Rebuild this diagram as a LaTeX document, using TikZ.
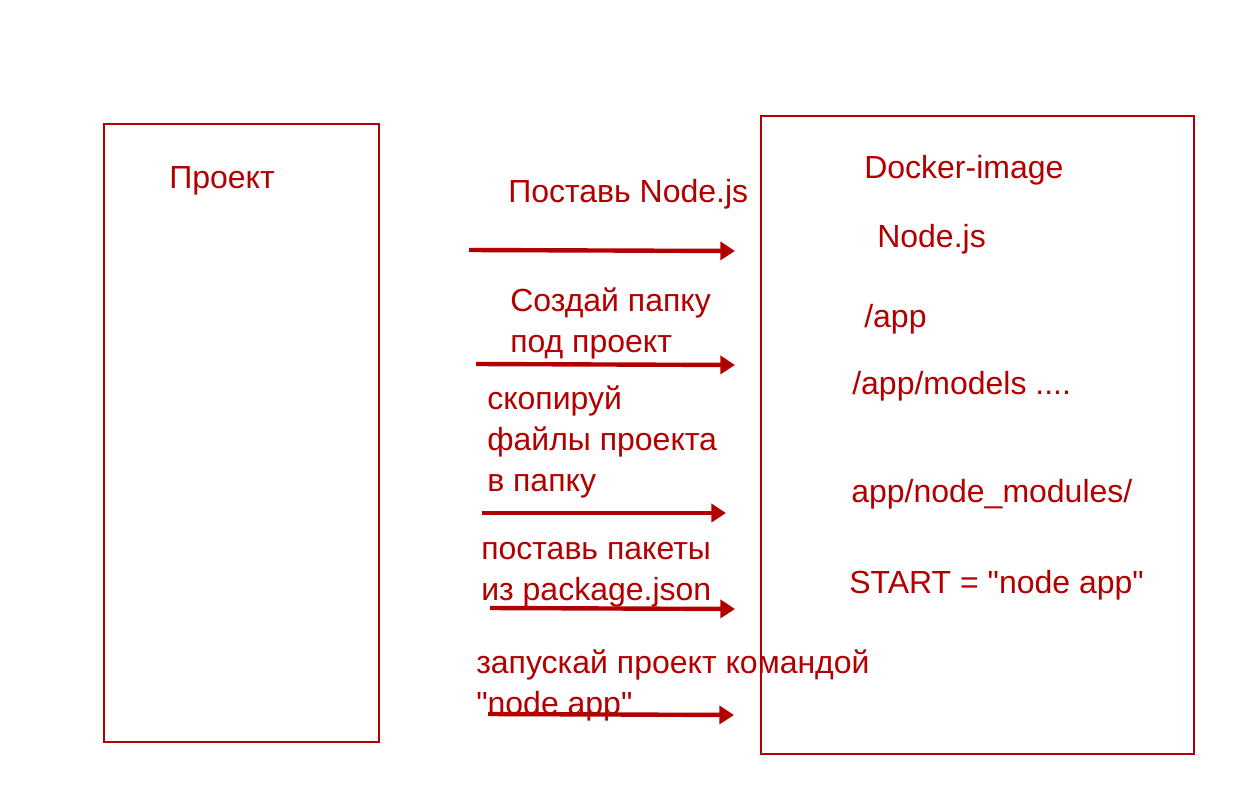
\documentclass[tikz,border=0pt]{standalone}
\usepackage{fontspec}
\setmainfont{Liberation Sans}
\usetikzlibrary{arrows.meta, positioning}
\definecolor{docred}{RGB}{178,0,0}

\begin{document}
\begin{tikzpicture}[x=0.75pt,y=-0.75pt,
	box/.style={draw=docred, line width=1.2pt},
	lbl/.style={text=docred, anchor=base west, inner sep=0pt, align=left, font=\fontsize{24}{30.5}\selectfont},
	step arrow/.style={draw=docred, line width=3.3pt, -{Triangle[length=11pt,width=13.5pt]}}]
	\useasboundingbox (0,0) rectangle (1240,811);

	% boxes
	\draw[box] (104,124) rectangle (379,742);
	\draw[box] (761,116) rectangle (1194,754);

	% left box
	\node[lbl] (PROJECT) at (169,188) {Проект};

	% steps (base = last line)
	\node[lbl] (S_NODE)    at (508,202) {Поставь Node.js};
	\node[lbl] (S_FOLDER)  at (510,352) {Создай папку\\под проект};
	\node[lbl] (S_COPY)    at (487,491) {скопируй\\файлы проекта\\в папку};
	\node[lbl] (S_INSTALL) at (481,600) {поставь пакеты\\из package.json};
	\node[lbl] (S_RUN)     at (476,714) {запускай проект командой\\\textquotedbl node app\textquotedbl};

	% image contents
	\node[lbl] (IMAGE)    at (864,178) {Docker-image};
	\node[lbl] (I_NODE)   at (877,247) {Node.js};
	\node[lbl] (I_APP)    at (864,327) {/app};
	\node[lbl] (I_MODELS) at (852,394) {/app/models ....};
	\node[lbl] (I_MODS)   at (851,502) {app/node\_modules/};
	\node[lbl] (I_START)  at (849,593) {START = \textquotedbl node app\textquotedbl};

	% arrow ends
	\coordinate (A1) at (469,250);  \coordinate (B1) at (735,251);
	\coordinate (A2) at (476,364);  \coordinate (B2) at (735,365);
	\coordinate (A3) at (482,513);  \coordinate (B3) at (726,513);
	\coordinate (A4) at (490,608);  \coordinate (B4) at (735,609);
	\coordinate (A5) at (488,714);  \coordinate (B5) at (734,715);

	\draw[step arrow] (A1) -- (B1);
	\draw[step arrow] (A2) -- (B2);
	\draw[step arrow] (A3) -- (B3);
	\draw[step arrow] (A4) -- (B4);
	\draw[step arrow] (A5) -- (B5);
\end{tikzpicture}
\end{document}
